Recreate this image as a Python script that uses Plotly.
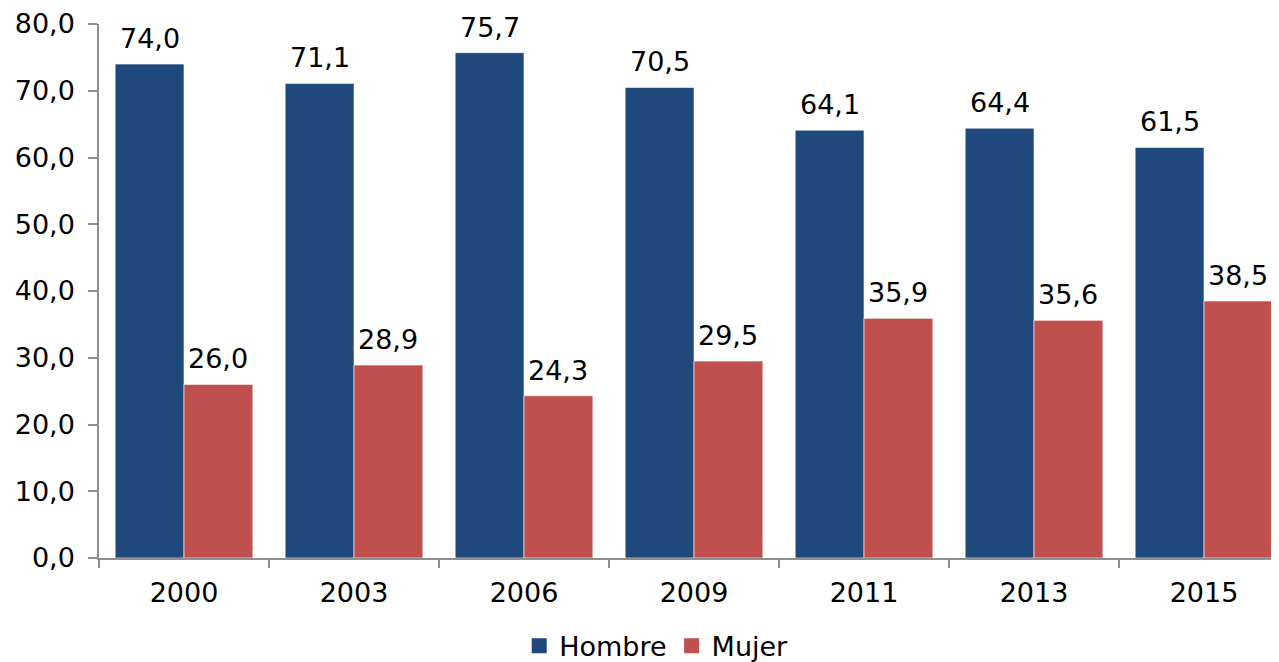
import plotly.graph_objects as go

years = ["2000", "2003", "2006", "2009", "2011", "2013", "2015"]
hombre = [74.0, 71.1, 75.7, 70.5, 64.1, 64.4, 61.5]
mujer = [26.0, 28.9, 24.3, 29.5, 35.9, 35.6, 38.5]
y_ticks = [0, 10, 20, 30, 40, 50, 60, 70, 80]

BLUE = "#1F497D"
RED = "#C0504D"
FONT = "DejaVu Sans"
FSIZE = 27
BARGAP = 0.19

fig = go.Figure()
for name, vals, col in (("Hombre", hombre, BLUE), ("Mujer", mujer, RED)):
    fig.add_trace(go.Bar(
        x=years, y=vals, name=name, showlegend=False,
        marker=dict(color=col, line=dict(width=1, color="rgba(255,255,255,0.6)")),
    ))
    # legend-only entry with a bigger square swatch
    fig.add_trace(go.Scatter(
        x=[None], y=[None], name=name, mode="markers",
        marker=dict(symbol="square", size=15, color=col),
    ))

# value labels above each bar
half = (1 - BARGAP) / 4
for i, (h, m) in enumerate(zip(hombre, mujer)):
    for val, dx in ((h, -half), (m, half)):
        fig.add_annotation(
            x=i + dx, y=val, xref="x", yref="y",
            text=f"{val:.1f}".replace(".", ","),
            showarrow=False, yanchor="bottom", yshift=8,
            font=dict(family=FONT, size=FSIZE, color="#000"),
        )

axis_col = "#8f8f8f"
# page body has an 8px margin, so the figure is sized to the visible area
fig.update_layout(
    width=1271, height=654,
    barmode="group", bargap=BARGAP, bargroupgap=0,
    separators=",.",
    font=dict(family=FONT, size=FSIZE, color="#000"),
    paper_bgcolor="white", plot_bgcolor="white",
    margin=dict(l=91, r=0, t=16, b=104),
    xaxis=dict(
        type="category", range=[-0.5, 6.441],
        showline=True, linecolor=axis_col, linewidth=1.5,
        ticks="outside", tickson="boundaries", ticklen=8,
        tickcolor=axis_col, tickwidth=1.5, ticklabelstandoff=10,
        showgrid=False, zeroline=False,
        tickfont=dict(family=FONT, size=FSIZE, color="#000"),
    ),
    yaxis=dict(
        range=[0, 80], tickvals=y_ticks, tickformat=".1f",
        showline=True, linecolor=axis_col, linewidth=1.5,
        ticks="outside", ticklen=9, tickcolor=axis_col, tickwidth=1.5,
        ticklabelstandoff=8,
        showgrid=False, zeroline=False,
        tickfont=dict(family=FONT, size=FSIZE, color="#000"),
    ),
    legend=dict(
        orientation="h", xref="container", yref="container",
        x=0.51, y=0.024, xanchor="center", yanchor="middle",
        font=dict(family=FONT, size=FSIZE, color="#000"),
        itemwidth=30, tracegroupgap=0,
    ),
    showlegend=True,
)

fig.write_html("out.html")
